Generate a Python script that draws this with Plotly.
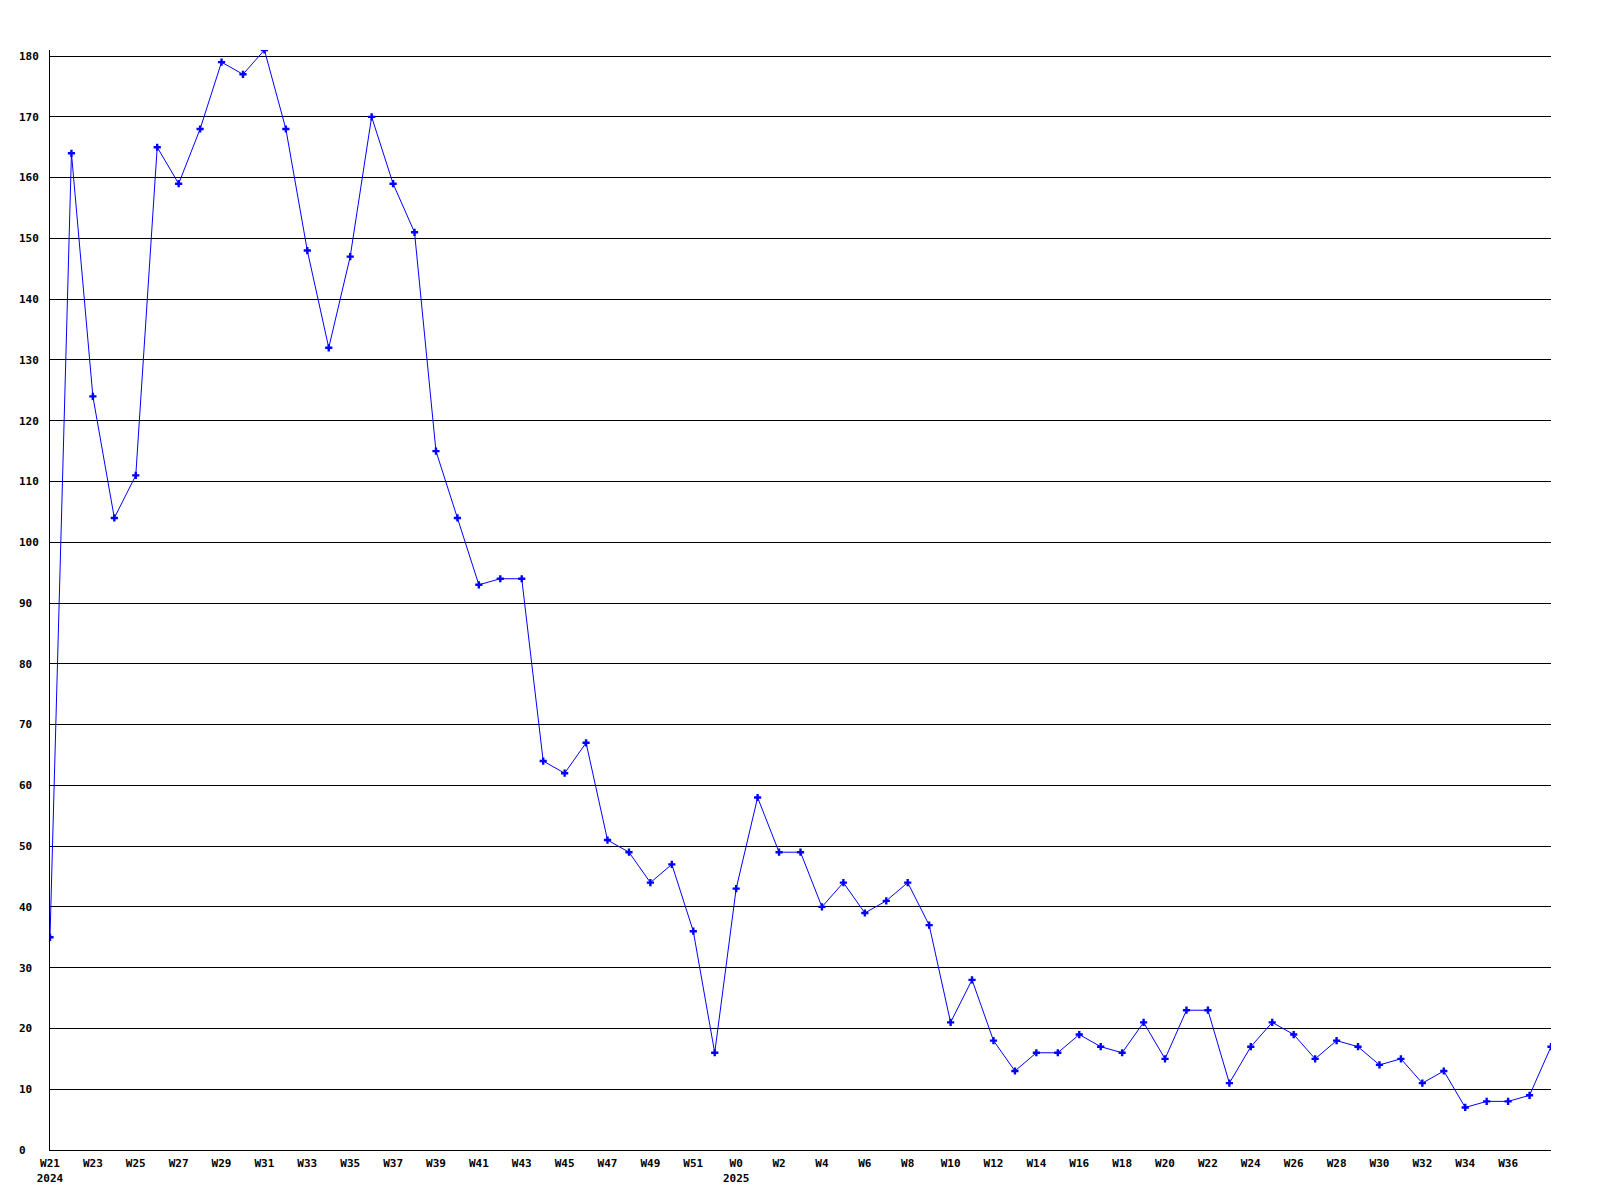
import plotly.graph_objects as go

weeks_2024 = [f"W{i}" for i in range(21, 53)]
weeks_2025 = [f"W{i}" for i in range(0, 39)]
week_labels = weeks_2024 + weeks_2025

values_2024 = [35, 164, 124, 104, 111, 165, 159, 168, 179, 177, 181, 168, 148, 132,
               147, 170, 159, 151, 115, 104, 93, 94, 94, 64, 62, 67, 51, 49, 44, 47,
               36, 16]
values_2025 = [43, 58, 49, 49, 40, 44, 39, 41, 44, 37, 21, 28, 18, 13, 16, 16, 19,
               17, 16, 21, 15, 23, 23, 11, 17, 21, 19, 15, 18, 17, 14, 15, 11, 13,
               7, 8, 8, 9, 17]
values = values_2024 + values_2025

year_labels = {"W21": "2024", "W0": "2025"}

x_idx = list(range(len(values)))
tick_vals = x_idx[:-1:2]
tick_text = []
for i in tick_vals:
    lab = week_labels[i]
    if i == 0:
        tick_text.append(lab + "<br>" + year_labels["W21"])
    elif i == len(weeks_2024):
        tick_text.append(lab + "<br>" + year_labels["W0"])
    else:
        tick_text.append(lab)

y_ticks = list(range(0, 181, 10))
y_text = [str(v) + "\u00a0" * (3 - len(str(v))) for v in y_ticks]

font = dict(family="DejaVu Sans Mono", size=11, color="black", weight="bold")

fig = go.Figure()
fig.add_trace(go.Scatter(
    x=x_idx, y=values, mode="lines+markers",
    line=dict(color="#0000ff", width=1),
    marker=dict(symbol="cross", size=6, color="#0000ff", line=dict(width=0)),
    hoverinfo="skip",
))

fig.update_layout(
    width=1584, height=1184,
    margin=dict(l=42, r=41, t=42, b=42, autoexpand=False),
    paper_bgcolor="white", plot_bgcolor="white",
    showlegend=False,
    font=font,
    xaxis=dict(
        range=[0, len(values) - 1], fixedrange=True, automargin=False,
        tickmode="array", tickvals=tick_vals, ticktext=tick_text,
        showgrid=False, zeroline=False,
        showline=True, linecolor="black", linewidth=1,
        ticks="", ticklabelstandoff=3, tickfont=font,
    ),
    yaxis=dict(
        range=[0, 181], fixedrange=True, automargin=False,
        tickmode="array", tickvals=y_ticks, ticktext=y_text,
        showgrid=True, gridcolor="black", gridwidth=1,
        zeroline=False,
        showline=True, linecolor="black", linewidth=1,
        ticks="", ticklabelstandoff=8, tickfont=font,
    ),
)

fig.write_html("out.html", config={"displayModeBar": False})
